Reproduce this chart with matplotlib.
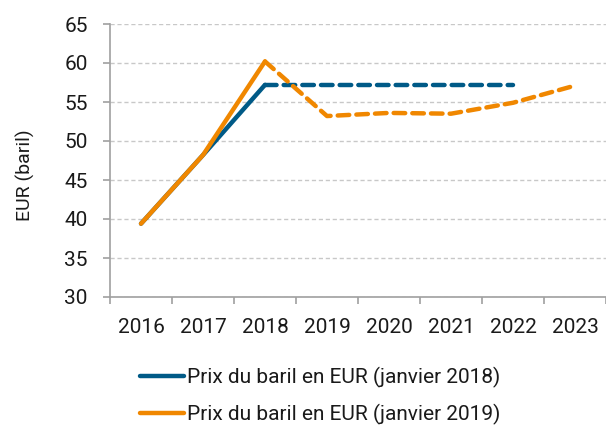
import numpy as np
import matplotlib
matplotlib.use("Agg")
import matplotlib.pyplot as plt
from matplotlib.lines import Line2D

plt.rcParams['font.family'] = ['Roboto', 'DejaVu Sans']

years = ['2016', '2017', '2018', '2019', '2020', '2021', '2022', '2023']
# janvier 2018 forecast (last actual = 2018)
jan2018 = [39.4, 48.2, 57.2, 57.2, 57.2, 57.2, 57.2, None]
# janvier 2019 forecast
jan2019 = [39.4, 48.2, 60.2, 53.2, 53.6, 53.5, 54.9, 57.1]
split = 2  # index where the dashed part starts

blue = '#005a87'
orange = '#f08700'

fig = plt.figure(figsize=(6.06, 4.25), dpi=100)
ax = fig.add_axes([110 / 606, 1 - 297 / 425, 1 - 110 / 606, (297 - 24) / 425])

x = np.arange(len(years))

def draw(vals, color):
    xs = [i for i, v in enumerate(vals) if v is not None]
    xs_solid = [i for i in xs if i <= split]
    xs_dash = [i for i in xs if i >= split]
    ax.plot(xs_solid, [vals[i] for i in xs_solid], color=color, lw=3.2,
            solid_capstyle='round', solid_joinstyle='round', zorder=3)
    ax.plot(xs_dash, [vals[i] for i in xs_dash], color=color, lw=3.2,
            dashes=(2.6, 1.6), dash_capstyle='round', zorder=3)

draw(jan2018, blue)
draw(jan2019, orange)

ax.set_xlim(-0.5, len(years) - 0.5)
ax.set_ylim(30, 65)
ax.set_yticks(np.arange(30, 66, 5))
ax.set_xticks(x)
ax.set_xticklabels(years)
ax.set_xticks(np.arange(-0.5, len(years), 1), minor=True)

ax.grid(axis='y', color='#c8c8c8', linestyle=(0, (3, 2)), lw=1, zorder=0)
for s in ['top', 'right']:
    ax.spines[s].set_visible(False)
for s in ['left', 'bottom']:
    ax.spines[s].set_color('#a0a0a0')
    ax.spines[s].set_linewidth(1.2)

ax.tick_params(axis='x', which='major', length=0, pad=15, labelsize=15, labelcolor='#1a1a1a')
ax.tick_params(axis='x', which='minor', length=5, width=1.2, color='#a0a0a0')
ax.tick_params(axis='y', length=5, width=1.2, color='#a0a0a0', pad=11,
               labelsize=15, labelcolor='#1a1a1a')

fig.text(25 / 606, 1 - 175 / 425, 'EUR (baril)', rotation=90, ha='center', va='center',
         fontsize=14, color='#1a1a1a')

handles = [Line2D([], [], color=blue, lw=3.2, solid_capstyle='round'),
           Line2D([], [], color=orange, lw=3.2, solid_capstyle='round')]
labels = ['Prix du baril en EUR (janvier 2018)', 'Prix du baril en EUR (janvier 2019)']
fig.legend(handles, labels, loc='upper left', bbox_to_anchor=(140 / 606, 1 - 367 / 425),
           frameon=False, fontsize=15, handlelength=2.1, handletextpad=0.15,
           labelspacing=0.75, borderpad=0, borderaxespad=0, labelcolor='#1a1a1a')

fig.savefig('out.png', dpi=100)
